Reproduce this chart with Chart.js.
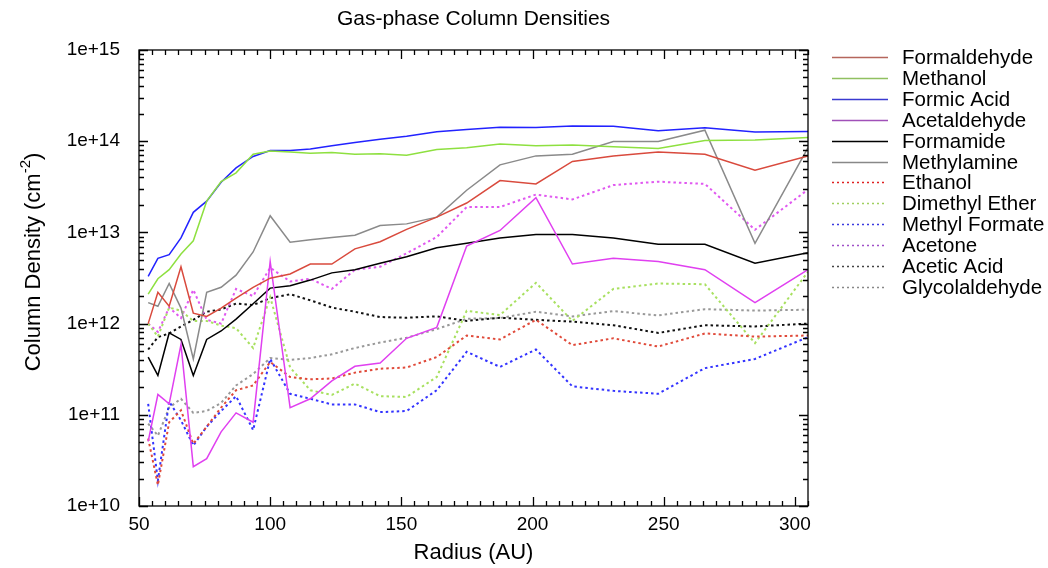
<!DOCTYPE html>
<html>
<head>
<meta charset="utf-8">
<title>Gas-phase Column Densities</title>
<script src="https://cdn.jsdelivr.net/npm/chart.js@4.4.1/dist/chart.umd.min.js"></script>
<style>
    html, body { margin: 0; padding: 0; background: #fff; }
    #wrap { width: 1048px; height: 568px; }
</style>
</head>
<body>
<div id="wrap"><canvas id="chartCanvas" width="1048" height="568"></canvas></div>
<script>
// Radius grid (AU)
const radius = [53.5, 57.2, 61.5, 66, 70.7, 75.8, 81.3, 87, 93.5, 100, 107.6, 115.3, 123.5,
    132.3, 141.9, 152, 163.5, 174.9, 187.6, 201.3, 215.2, 230.8, 247.9, 265.7, 284.8, 305];

// Column densities (cm^-2), one array per species
const formaldehyde = [1.0e12, 2.2e12, 1.55e12, 4.2e12, 1.3e12, 1.2e12, 1.48e12, 1.9e12, 2.5e12, 3.15e12, 3.5e12, 4.5e12, 4.5e12,
    6.6e12, 7.9e12, 1.08e13, 1.47e13, 2.1e13, 3.7e13, 3.4e13, 6.0e13, 6.9e13, 7.6e13, 7.2e13, 4.8e13, 6.9e13];
const methanol = [2.1e12, 3.1e12, 3.9e12, 5.8e12, 8.1e12, 2.2e13, 3.6e13, 4.5e13, 7.2e13, 7.8e13, 7.6e13, 7.4e13, 7.5e13,
    7.2e13, 7.3e13, 7.0e13, 8.1e13, 8.5e13, 9.3e13, 8.9e13, 9.1e13, 8.7e13, 8.3e13, 1.02e14, 1.03e14, 1.1e14];
const formicAcid = [3.3e12, 5.2e12, 5.7e12, 8.7e12, 1.66e13, 2.2e13, 3.55e13, 5.1e13, 6.8e13, 7.9e13, 7.9e13, 8.2e13, 8.9e13,
    9.7e13, 1.05e14, 1.13e14, 1.27e14, 1.34e14, 1.42e14, 1.41e14, 1.47e14, 1.46e14, 1.30e14, 1.40e14, 1.26e14, 1.28e14];
const acetaldehyde = [5.1e10, 1.67e11, 1.32e11, 5.9e11, 2.7e10, 3.3e10, 6.5e10, 1.05e11, 8.3e10, 4.8e12, 1.2e11, 1.5e11, 2.35e11,
    3.4e11, 3.7e11, 6.9e11, 9.1e11, 7.1e12, 1.05e13, 2.4e13, 4.5e12, 5.2e12, 4.8e12, 3.9e12, 1.7e12, 3.9e12];
const formamide = [4.3e11, 2.7e11, 7.9e11, 6.7e11, 2.7e11, 6.7e11, 8.3e11, 1.12e12, 1.65e12, 2.45e12, 2.6e12, 3.0e12, 3.6e12,
    3.9e12, 4.6e12, 5.4e12, 6.8e12, 7.6e12, 8.7e12, 9.5e12, 9.5e12, 8.7e12, 7.4e12, 7.4e12, 4.6e12, 6.0e12];
const methylamine = [1.7e12, 1.55e12, 2.75e12, 1.48e12, 4.1e11, 2.2e12, 2.5e12, 3.4e12, 6.1e12, 1.52e13, 7.8e12, 8.3e12, 8.8e12,
    9.3e12, 1.19e13, 1.24e13, 1.47e13, 2.9e13, 5.5e13, 6.9e13, 7.2e13, 9.9e13, 9.9e13, 1.32e14, 7.6e12, 8.5e13];
const ethanol = [5.5e10, 1.7e10, 8.3e10, 1.12e11, 4.8e10, 7.4e10, 1.2e11, 1.86e11, 2.1e11, 3.8e11, 2.6e11, 2.45e11, 2.5e11,
    2.9e11, 3.2e11, 3.3e11, 4.3e11, 7.4e11, 6.7e11, 1.1e12, 5.8e11, 6.9e11, 5.6e11, 7.8e11, 7.2e11, 7.4e11];
const dimethylEther = [1.0e12, 7.2e11, 1.5e12, 1.38e12, 1.07e12, 1.07e12, 9.5e11, 8.9e11, 5.4e11, 1.95e12, 3.3e11, 1.86e11, 1.65e11,
    2.2e11, 1.6e11, 1.57e11, 2.6e11, 1.38e12, 1.24e12, 2.8e12, 1.07e12, 2.4e12, 2.75e12, 2.7e12, 6.1e11, 3.7e12];
const methylFormate = [1.32e11, 1.9e10, 1.4e11, 8.7e10, 4.6e10, 7.4e10, 1.1e11, 1.6e11, 6.8e10, 4.1e11, 1.7e11, 1.5e11, 1.3e11,
    1.3e11, 1.07e11, 1.1e11, 1.86e11, 4.9e11, 3.35e11, 5.2e11, 2.05e11, 1.83e11, 1.7e11, 3.25e11, 4.1e11, 7.1e11];
const acetone = [1.0e12, 8.1e11, 1.5e12, 1.15e12, 2.35e12, 1.1e12, 1.0e12, 2.4e12, 2.0e12, 4.1e12, 2.9e12, 3.1e12, 2.4e12,
    3.9e12, 4.2e12, 5.9e12, 8.9e12, 1.9e13, 1.9e13, 2.6e13, 2.3e13, 3.3e13, 3.6e13, 3.4e13, 1.07e13, 2.95e13];
const aceticAcid = [5.2e11, 7.1e11, 7.8e11, 9.3e11, 1.1e12, 1.35e12, 1.43e12, 1.66e12, 1.6e12, 1.9e12, 2.1e12, 1.8e12, 1.5e12,
    1.35e12, 1.18e12, 1.16e12, 1.2e12, 1.07e12, 1.16e12, 1.1e12, 1.05e12, 9.6e11, 7.9e11, 9.6e11, 9.3e11, 1.0e12];
const glycolaldehyde = [8.0e10, 5.9e10, 1.2e11, 1.5e11, 1.05e11, 1.1e11, 1.35e11, 2.1e11, 2.8e11, 4.2e11, 4.0e11, 4.2e11, 4.6e11,
    5.4e11, 6.2e11, 7.0e11, 8.7e11, 1.13e12, 1.15e12, 1.35e12, 1.2e12, 1.37e12, 1.23e12, 1.44e12, 1.39e12, 1.42e12];

const speciesNames = ['Formaldehyde', 'Methanol', 'Formic Acid', 'Acetaldehyde', 'Formamide', 'Methylamine',
    'Ethanol', 'Dimethyl Ether', 'Methyl Formate', 'Acetone', 'Acetic Acid', 'Glycolaldehyde'];
const speciesValues = [formaldehyde, methanol, formicAcid, acetaldehyde, formamide, methylamine,
    ethanol, dimethylEther, methylFormate, acetone, aceticAcid, glycolaldehyde];

// x axis ticks (AU) and y axis decades
const xTickValues = [50, 100, 150, 200, 250, 300];
const yDecades = [10, 11, 12, 13, 14, 15];

// line styles
const lineColors = ['#d94a3d', '#8ee040', '#2222ff', '#e040f0', '#000000', '#8a8a8a',
    '#e04a3a', '#a8e060', '#3333ff', '#e058f0', '#111111', '#999999'];
const legendColors = ['#b5665c', '#90c060', '#3a3ad0', '#a050b8', '#000000', '#888888',
    '#e02020', '#a0d060', '#3a3ae0', '#a050c8', '#444444', '#888888'];
const dotted = [false, false, false, false, false, false, true, true, true, true, true, true];

const FONT = '"Liberation Sans", Arial, Helvetica, sans-serif';
const chartCanvas = document.getElementById('chartCanvas');

const datasets = speciesNames.map((name, i) => ({
    label: name,
    data: radius.map((r, j) => ({ x: r, y: speciesValues[i][j] })),
    borderColor: lineColors[i],
    backgroundColor: lineColors[i],
    borderWidth: dotted[i] ? 2 : 1.5,
    borderDash: dotted[i] ? [2.5, 3] : [],
    pointRadius: 0,
    tension: 0,
    fill: false
}));

// Draws frame, inward ticks (gnuplot style), title, y title and legend
const decorations = {
    id: 'decorations',
    afterDraw(chart) {
        const ctx = chart.ctx;
        const area = chart.chartArea;
        const xs = chart.scales.x;
        const ys = chart.scales.y;
        ctx.save();
        ctx.strokeStyle = '#000';
        ctx.lineWidth = 1.3;
        ctx.setLineDash([]);
        ctx.strokeRect(area.left, area.top, area.right - area.left, area.bottom - area.top);

        ctx.beginPath();
        for (let v = 50; v <= 305; v += 5) {
            const px = Math.round(xs.getPixelForValue(v)) + 0.5;
            const len = (v % 50 === 0) ? 9 : 5;
            ctx.moveTo(px, area.bottom);
            ctx.lineTo(px, area.bottom - len);
            ctx.moveTo(px, area.top);
            ctx.lineTo(px, area.top + len);
        }
        yDecades.forEach(e => {
            for (let m = 1; m <= 9; m++) {
                if (e === 15 && m > 1) break;
                const py = Math.round(ys.getPixelForValue(m * Math.pow(10, e))) + 0.5;
                const len = m === 1 ? 9 : 5;
                ctx.moveTo(area.left, py);
                ctx.lineTo(area.left + len, py);
                ctx.moveTo(area.right, py);
                ctx.lineTo(area.right - len, py);
            }
        });
        ctx.stroke();

        // title
        ctx.fillStyle = '#000';
        ctx.font = '21px ' + FONT;
        ctx.textAlign = 'center';
        ctx.textBaseline = 'middle';
        ctx.fillText('Gas-phase Column Densities', (area.left + area.right) / 2, 19);

        // y axis title with superscript
        ctx.translate(34, 262);
        ctx.rotate(-Math.PI / 2);
        const main = 'Column Density (cm';
        const sup = '-2';
        const close = ')';
        ctx.font = '22px ' + FONT;
        const w1 = ctx.measureText(main).width;
        const w3 = ctx.measureText(close).width;
        ctx.font = '15px ' + FONT;
        const w2 = ctx.measureText(sup).width;
        let x0 = -(w1 + w2 + w3) / 2;
        ctx.textAlign = 'left';
        ctx.font = '22px ' + FONT;
        ctx.fillText(main, x0, 0);
        ctx.font = '15px ' + FONT;
        ctx.fillText(sup, x0 + w1, -8);
        ctx.font = '22px ' + FONT;
        ctx.fillText(close, x0 + w1 + w2, 0);
        ctx.setTransform(1, 0, 0, 1, 0, 0);

        // legend
        ctx.font = '20.5px ' + FONT;
        ctx.textAlign = 'left';
        ctx.textBaseline = 'middle';
        speciesNames.forEach((name, i) => {
            const y = Math.round(57 + i * 20.9) + 0.5;
            ctx.strokeStyle = legendColors[i];
            ctx.lineWidth = dotted[i] ? 1.5 : 1.6;
            ctx.setLineDash(dotted[i] ? [2, 3] : []);
            ctx.beginPath();
            ctx.moveTo(832, y);
            ctx.lineTo(dotted[i] ? 886 : 888, y);
            ctx.stroke();
            ctx.fillStyle = '#000';
            ctx.fillText(name, 902, y + 1);
        });
        ctx.restore();
    }
};

new Chart(chartCanvas, {
    type: 'line',
    data: { datasets: datasets },
    options: {
        responsive: false,
        animation: false,
        devicePixelRatio: 1,
        layout: { padding: { top: 50, right: 240, bottom: 0, left: 0 } },
        plugins: {
            legend: { display: false },
            title: { display: false },
            tooltip: { enabled: false }
        },
        scales: {
            x: {
                type: 'linear',
                min: 50,
                max: 305,
                afterFit: s => { s.height = 62; },
                afterBuildTicks: s => { s.ticks = xTickValues.map(v => ({ value: v })); },
                ticks: {
                    includeBounds: false,
                    autoSkip: false,
                    maxRotation: 0,
                    padding: 7,
                    color: '#000',
                    font: { family: FONT, size: 19 }
                },
                grid: { display: false, drawTicks: false },
                border: { display: false },
                title: {
                    display: true,
                    text: 'Radius (AU)',
                    color: '#000',
                    font: { family: FONT, size: 22 },
                    padding: { top: 0, bottom: 2 }
                }
            },
            y: {
                type: 'logarithmic',
                min: 1e10,
                max: 1e15,
                afterFit: s => { s.width = 139; },
                afterBuildTicks: s => { s.ticks = yDecades.map(e => ({ value: Math.pow(10, e) })); },
                ticks: {
                    autoSkip: false,
                    padding: 19,
                    color: '#000',
                    font: { family: FONT, size: 19 },
                    callback: value => '1e+' + Math.round(Math.log10(value))
                },
                grid: { display: false, drawTicks: false },
                border: { display: false }
            }
        }
    },
    plugins: [decorations]
});
</script>
</body>
</html>
